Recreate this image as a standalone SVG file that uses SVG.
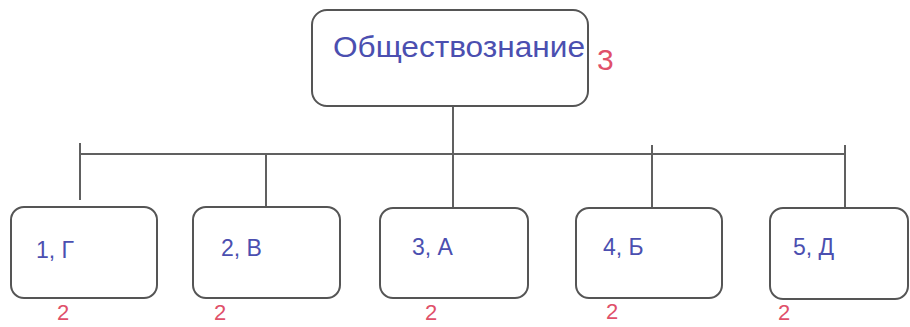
<svg xmlns="http://www.w3.org/2000/svg" width="910" height="327" viewBox="0 0 910 327">
<style>
.box{fill:#fff;stroke:#555;stroke-width:2}
.ln{stroke:#606060;stroke-width:2;fill:none}
.t{font-family:"Liberation Sans",Arial,sans-serif;fill:#4b4fb0}
.r{font-family:"Liberation Sans",Arial,sans-serif;fill:#e0506a;font-size:22px}
</style>
<rect width="910" height="327" fill="#fff"/>
<g id="connectors">
<path class="ln" d="M453 106V154M80 154H845M80 143V200M266 154V207M453 154V208M652 145V208M845 145V208"/>
</g>
<g id="root">
<rect class="box" x="312" y="10" width="276" height="96" rx="15"/>
<text class="t" x="333" y="57" font-size="30" textLength="252" lengthAdjust="spacingAndGlyphs">Обществознание</text>
<text class="r" x="597" y="70" style="font-size:30px">3</text>
</g>
<g id="n1">
<rect class="box" x="11" y="207" width="146" height="91" rx="13"/>
<text class="t" x="36" y="258" font-size="23">1, Г</text>
<text class="r" x="57" y="320">2</text>
</g>
<g id="n2">
<rect class="box" x="193" y="207" width="147" height="91" rx="13"/>
<text class="t" x="221" y="256" font-size="23">2, В</text>
<text class="r" x="214" y="320">2</text>
</g>
<g id="n3">
<rect class="box" x="380" y="208" width="148" height="90" rx="13"/>
<text class="t" x="412" y="255" font-size="23">3, А</text>
<text class="r" x="425" y="320">2</text>
</g>
<g id="n4">
<rect class="box" x="576" y="208" width="146" height="90" rx="13"/>
<text class="t" x="603" y="255" font-size="23">4, Б</text>
<text class="r" x="606" y="319">2</text>
</g>
<g id="n5">
<rect class="box" x="770" y="208" width="138" height="91" rx="13"/>
<text class="t" x="793" y="255" font-size="23">5, Д</text>
<text class="r" x="778" y="320">2</text>
</g>
</svg>
